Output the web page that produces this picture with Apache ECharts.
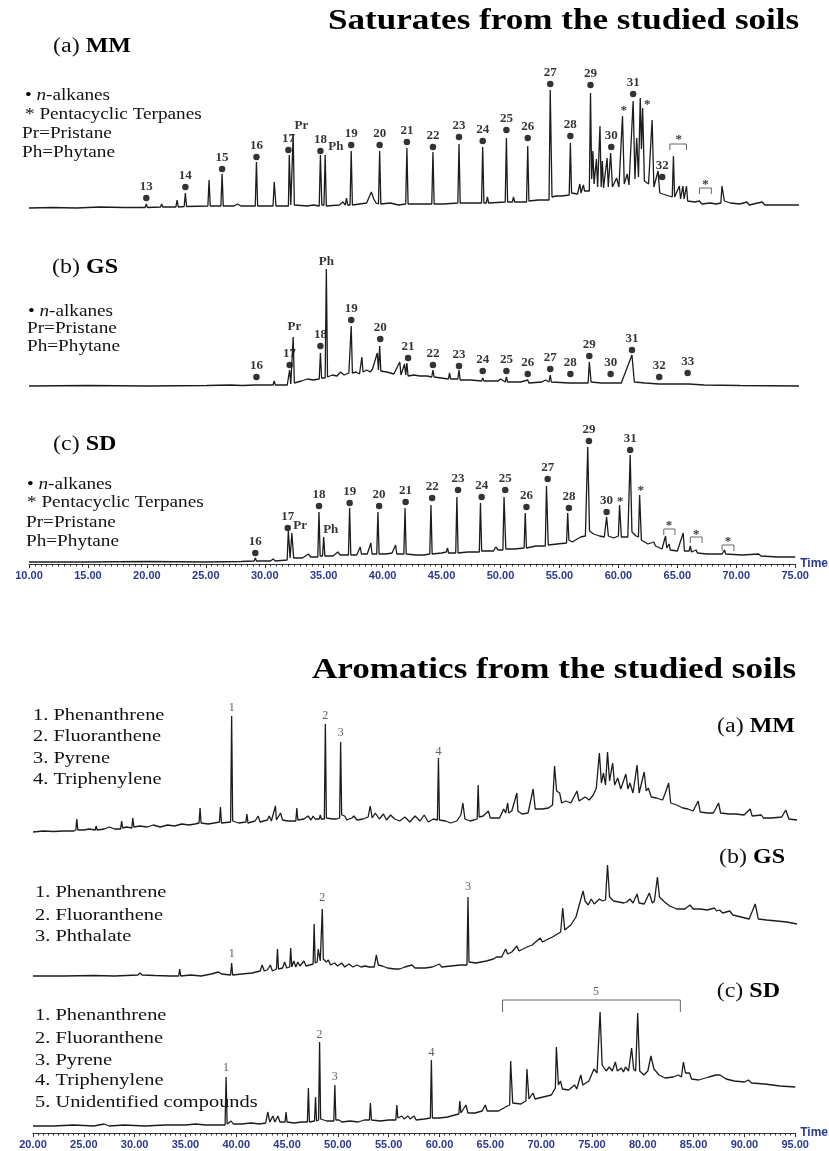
<!DOCTYPE html>
<html>
<head>
<meta charset="utf-8">
<script src="https://cdn.jsdelivr.net/npm/echarts@6/dist/echarts.min.js"></script>
<style>
  html, body { margin: 0; padding: 0; background: #fff; }
  #chart { width: 829px; height: 1151px; }
</style>
</head>
<body>
<div id="chart"></div>
<script>
// ---- saturate fraction, retention time (min) vs relative abundance ----
const satMM = [
  [10,1],[12,1.5],[14,1],[16,2],[18,1.5],[19.8,1.5],[19.9,5],[20.0,1.5],[21.1,2],[21.2,5],[21.3,2],[22.4,2],[22.5,9],[22.6,2],
  [23.1,2.5],[23.2,16],[23.3,2.5],[25.1,3],[25.2,29],[25.3,3],[26.2,3],[26.3,35],[26.4,3],[27.3,3],[27.6,5],[27.9,3],
  [29.1,3],[29.2,47],[29.3,3],[30.6,3],[30.7,27],[30.85,3],[31.9,3],[31.97,54],[32.1,4],[32.3,75],[32.4,4],[33.5,3],
  [34.0,4],[34.5,3],[34.6,54],[34.72,4],[34.9,4],[35.0,54],[35.1,3],[36.2,4],[36.5,7],[36.7,4],[36.8,11],[36.9,4],
  [37.1,4],[37.2,58],[37.3,4],[38.5,6],[38.9,17],[39.1,10],[39.3,6],[39.5,5],[39.6,58],[39.7,5],[40.5,6],[41.2,4],
  [41.8,5],[41.9,61],[42.0,5],[43.0,5],[44.0,5],[44.1,57],[44.2,5],[45.0,5],[46.2,6],[46.3,65],[46.4,6],[47.5,6],
  [48.2,6],[48.3,62],[48.4,6],[48.6,6],[48.7,12],[48.8,6],[50.2,7],[50.3,71],[50.4,7],[50.8,7],[50.9,12],[51.0,7],
  [52.0,7],[52.1,63],[52.2,8],[53.0,9],[53.9,9],[54.0,119],[54.15,12],[54.5,13],[55.0,13],[55.6,14],[55.7,66],[55.8,16],
  [56.3,15],[56.5,25],[56.6,16],[56.8,24],[56.9,18],[57.3,18],[57.4,116],[57.5,30],[57.6,58],[57.7,25],[57.9,50],[58.0,22],
  [58.2,83],[58.3,22],[58.4,48],[58.5,21],[58.8,51],[58.9,22],[59.1,56],[59.25,22],[59.6,31],[59.8,22],[60.1,93],[60.25,25],
  [60.5,35],[60.65,24],[61.0,108],[61.15,30],[61.3,71],[61.45,32],[61.6,111],[61.7,60],[61.8,101],[61.95,28],[62.3,25],
  [62.6,89],[62.75,22],[63.1,38],[63.25,16],[63.5,15],[64.3,12],[64.4,53],[64.5,12],[64.9,23],[65.0,10],[65.2,23],[65.3,10],
  [65.5,23],[65.6,8],[66.2,7],[66.6,8],[66.8,5],[67.5,6],[68.0,5],[68.4,6],[68.5,23],[68.7,8],[69.2,6],[70.0,5],[70.6,7],
  [70.8,4],[71.9,7],[72.1,4],[73.0,4],[75.0,4]
];
const satGS = [
  [10,0],[15,0.5],[20,0],[25,0.5],[27,1],[28,0.5],[29.1,1],[29.2,3],[29.3,1],[30.6,1],[30.7,5],[30.8,1],[31.8,1],[32.0,16],
  [32.1,2],[32.3,49],[32.4,3],[33.0,5],[33.5,7],[34.0,6],[34.5,7],[34.6,33],[34.7,8],[35.0,8],[35.1,117],[35.2,9],[35.6,11],
  [36.0,10],[36.3,14],[36.6,11],[37.0,13],[37.2,60],[37.3,13],[37.6,14],[37.9,12],[38.1,29],[38.2,14],[38.5,16],[38.8,14],
  [39.0,17],[39.4,33],[39.5,16],[39.6,40],[39.7,15],[40.2,14],[40.8,12],[41.3,24],[41.4,11],[41.7,22],[41.8,11],[41.9,23],
  [42.0,10],[42.5,11],[43.0,10],[43.6,10],[44.0,9],[44.1,16],[44.2,9],[44.8,8],[45.4,7],[45.5,13],[45.6,7],[46.2,7],
  [46.3,16],[46.4,6],[47.3,6],[48.2,5],[48.3,8],[48.4,5],[49.6,5],[49.8,7],[50.2,4],[50.3,9],[50.4,4],[51.5,4],[52.1,6],
  [52.2,3],[53.3,4],[53.6,6],[53.9,4],[54.0,11],[54.1,4],[55.6,3],[55.7,4],[55.8,3],[57.2,3],[57.3,24],[57.45,4],[58.3,3],
  [59.1,3],[59.2,2.5],[60.0,3],[60.9,31],[61.1,4],[62.0,3],[63.2,2],[64.0,2],[65.5,2],[65.6,4],[65.7,2],[67,1],[70,0.5],[75,0]
];
const satSD = [
  [10,2],[15,2],[20,2.5],[25,2],[28,2.5],[29.1,3],[29.2,6],[29.3,3],[30.5,3],[30.7,5],[30.9,3],[31.9,4],[32.0,33],[32.15,6],
  [32.3,31],[32.45,6],[33.2,6],[33.7,10],[33.9,7],[34.5,7],[34.6,52],[34.7,8],[34.9,8],[35.0,27],[35.1,8],[35.8,8],[36.2,12],
  [36.4,9],[36.6,9],[37.1,9],[37.2,56],[37.3,9],[37.8,9],[38.1,17],[38.2,10],[38.7,10],[39.0,21],[39.1,10],[39.5,10],
  [39.6,52],[39.7,10],[40.3,10],[40.8,11],[41.1,19],[41.2,10],[41.8,10],[41.9,56],[42.0,10],[42.8,9],[43.5,9],[44.0,10],
  [44.1,59],[44.2,10],[45.0,11],[45.4,12],[45.5,16],[45.6,11],[46.2,11],[46.3,67],[46.4,11],[47.2,12],[48.2,12],[48.3,61],
  [48.4,13],[49.4,13],[49.6,17],[49.8,14],[50.2,14],[50.3,67],[50.45,15],[51.2,15],[52.0,16],[52.1,51],[52.2,16],[53.0,18],
  [53.8,18],[53.9,78],[54.05,19],[54.8,20],[55.6,21],[55.7,51],[55.8,24],[56.1,22],[56.5,25],[56.8,27],[57.2,28],[57.4,117],
  [57.55,33],[57.9,30],[58.4,28],[58.8,27],[59.0,47],[59.15,28],[59.6,26],[60.0,28],[60.1,59],[60.25,27],[60.8,27],[61.0,109],
  [61.15,32],[61.5,28],[61.7,27],[61.8,69],[61.95,24],[62.5,20],[63.0,22],[63.15,18],[63.7,15],[64.0,28],[64.1,16],[64.3,20],
  [64.4,14],[65.0,13],[65.5,31],[65.6,13],[66.0,13],[66.1,18],[66.2,12],[66.6,14],[66.7,11],[67.5,10],[68.5,10],[68.6,12],
  [68.8,10],[69.0,14],[69.1,10],[70.5,9],[71.9,10],[72.1,8],[73.5,7],[75,7]
];

// n-alkane markers: [carbon number, time, height of dot]
const satMMAlkanes = [[13,19.9,11],[14,23.2,22],[15,26.3,40],[16,29.2,52],[17,31.9,59],[18,34.6,58],[19,37.2,64],[20,39.6,64],
  [21,41.9,67],[22,44.1,62],[23,46.3,72],[24,48.3,68],[25,50.3,79],[26,52.1,71],[27,54.0,125],[28,55.7,73],[29,57.4,124],
  [30,59.15,62],[31,61.0,115],[32,63.45,32]];
const satGSAlkanes = [[16,29.2,9],[17,32.0,21],[18,34.6,40],[19,37.2,66],[20,39.65,47],[21,42.0,28],[22,44.1,21],[23,46.3,20],
  [24,48.3,15],[25,50.3,15],[26,52.1,12],[27,54.0,17],[28,55.7,12],[29,57.3,30],[30,59.1,12],[31,60.9,36],[32,63.2,9],[33,65.6,13]];
const satSDAlkanes = [[16,29.2,11],[17,31.95,36],[18,34.6,58],[19,37.2,61],[20,39.7,58],[21,41.95,62],[22,44.2,66],[23,46.4,74],
  [24,48.4,67],[25,50.4,74],[26,52.2,57],[27,54.0,85],[28,55.8,56],[29,57.5,123],[30,59.0,52],[31,61.0,114]];

// other peak names: [text, time, height]
const satMMNames = [['Pr',33.0,83],['Ph',35.9,62],['*',60.2,98],['*',62.2,104],['*',64.85,69],['*',67.1,24]];
const satGSNames = [['Pr',32.4,59],['Ph',35.1,124]];
const satSDNames = [['Pr',33.0,38],['Ph',35.6,34],['*',60.15,62],['*',61.9,73],['*',64.3,38],['*',66.6,29],['*',69.3,22]];

// hopane group brackets: [start time, end time, height]
const satMMBrackets = [[64.1,65.5,65],[66.6,67.6,21]];
const satSDBrackets = [[63.85,64.8,35],[66.1,67.1,27],[68.8,69.8,19]];

// ---- aromatic fraction ----
const aroMM = [
  [20,1],[21,2],[22,1.5],[23,2],[24,2],[24.2,3],[24.3,14],[24.4,3],[25,3],[25.5,4],[26.1,3],[26.2,7],[26.3,3],[27,4],[27.5,6],
  [28,4],[28.6,4],[28.7,12],[28.8,5],[29.2,6],[29.7,5],[29.8,15],[29.9,6],[30.5,7],[31.2,6],[31.8,8],[32.5,6],[33.2,8],
  [33.9,7],[34.6,9],[35.3,8],[35.9,9],[36.3,10],[36.4,25],[36.5,10],[37.2,9],[37.8,10],[38.3,11],[38.4,26],[38.5,10],
  [39.4,11],[39.5,117],[39.6,12],[40.2,10],[40.9,11],[41.0,19],[41.1,10],[41.8,12],[42.1,17],[42.3,11],[43.0,13],[43.2,17],
  [43.4,12],[43.8,27],[43.9,13],[44.3,20],[44.5,13],[45.0,12],[45.8,12],[45.9,25],[46.0,13],[46.6,14],[47.0,17],[47.3,13],
  [47.5,17],[47.7,14],[48.1,14],[48.2,18],[48.3,14],[48.6,14],[48.7,109],[48.8,15],[49.4,14],[49.8,14],[50.1,15],[50.2,91],
  [50.3,18],[50.6,17],[50.8,13],[51.3,15],[51.5,17],[51.8,13],[52.4,14],[52.9,16],[53.1,27],[53.3,15],[53.6,20],[54.0,14],
  [54.4,19],[54.7,13],[55.1,18],[55.5,14],[56.0,12],[56.5,16],[57.0,11],[57.5,17],[58.0,12],[58.4,18],[58.8,11],[59.3,14],
  [59.7,13],[59.8,75],[59.9,13],[60.5,12],[61.0,10],[61.6,12],[62.0,18],[62.2,30],[62.4,14],[62.9,12],[63.3,13],[63.6,14],
  [63.7,48],[63.8,16],[64.2,17],[64.7,22],[64.9,15],[65.4,15],[65.8,15],[66.2,24],[66.4,20],[66.6,30],[66.7,20],[67.0,22],
  [67.5,40],[67.6,22],[68.0,19],[68.6,20],[69.1,44],[69.3,24],[70.0,24],[70.6,25],[71.0,28],[71.2,67],[71.4,42],[71.7,40],
  [71.9,30],[72.3,32],[72.8,30],[73.4,42],[73.6,32],[74.2,36],[74.6,33],[75.0,38],[75.3,45],[75.6,80],[75.8,50],[76.0,60],
  [76.2,48],[76.4,81],[76.6,52],[76.9,70],[77.1,48],[77.4,55],[77.7,44],[78.2,59],[78.4,44],[78.6,50],[78.9,40],[79.3,68],
  [79.5,40],[80.0,61],[80.2,42],[80.4,45],[80.7,36],[81.2,35],[81.8,33],[82.0,38],[82.4,50],[82.6,30],[83.2,28],[83.8,25],
  [84.3,24],[84.8,22],[85.3,32],[85.5,21],[86.2,20],[86.8,20],[87.3,30],[87.5,20],[88.3,19],[89.0,19],[89.8,18],[90.4,24],
  [90.6,17],[91.5,18],[91.7,15],[92.5,15],[93.5,16],[93.9,23],[94.2,14],[95,13]
];
const aroGS = [
  [20,1],[23,1],[26,1.5],[28,1],[30.3,2],[30.5,4],[30.7,2],[32,1.5],[33.5,1],[34.3,1],[34.4,8],[34.5,1],[35.5,2],[36.5,1],
  [37.5,3],[38.2,5],[38.5,3],[39.4,2],[39.5,14],[39.6,2],[40.5,3],[41.5,4],[42.3,6],[42.5,12],[42.7,6],[43.0,7],[43.3,12],
  [43.5,6],[43.9,8],[44.0,28],[44.1,8],[44.5,9],[44.7,15],[44.9,9],[45.2,10],[45.3,29],[45.4,10],[45.6,16],[45.8,10],
  [46.0,15],[46.2,11],[46.6,16],[46.8,11],[47.5,13],[47.6,53],[47.7,14],[47.9,15],[48.0,28],[48.2,16],[48.4,68],[48.5,18],
  [48.8,15],[49.0,17],[49.2,12],[49.6,14],[49.9,11],[50.3,14],[50.6,10],[51.0,13],[51.4,10],[51.8,12],[52.2,10],[52.6,11],
  [53.0,10],[53.5,10],[53.7,22],[53.9,12],[54.3,11],[54.8,9],[55.5,8],[56.0,8],[56.5,10],[57.2,12],[57.5,9],[58.5,9],
  [59.2,10],[59.9,13],[60.1,10],[61.0,11],[62.0,12],[62.6,12],[62.7,80],[62.8,15],[63.5,14],[64.5,16],[65.2,18],[65.5,20],
  [66.0,20],[66.4,28],[66.6,23],[67.0,25],[67.5,31],[67.7,26],[68.5,30],[69.0,32],[69.8,39],[70.0,35],[71.0,40],[71.8,45],
  [72.0,69],[72.2,47],[72.8,52],[73.3,60],[74.0,86],[74.2,76],[74.5,72],[74.8,78],[75.1,73],[75.6,78],[75.9,76],[76.2,77],
  [76.4,112],[76.6,80],[77.0,76],[77.5,75],[78.0,74],[78.3,75],[78.6,78],[78.9,74],[79.3,83],[79.5,74],[80.0,73],[80.5,84],
  [80.8,74],[81.0,76],[81.3,100],[81.5,80],[82.0,75],[82.5,71],[83.2,68],[84.0,68],[84.5,72],[84.8,68],[85.5,68],[86.2,67],
  [86.9,69],[87.1,66],[87.4,67],[87.7,64],[88.4,66],[88.7,62],[89.5,60],[90.3,58],[90.9,73],[91.2,58],[92.0,57],[93.0,56],
  [94.0,55],[95,53]
];
const aroSD = [
  [20,7],[22,7],[24,8],[26,7],[27,9],[27.5,7],[29,8],[31,7],[33,8],[35,8],[36,9],[37,8],[38.9,8],[39.0,56],[39.1,9],[39.5,12],
  [39.7,9],[40.5,9],[41.5,10],[42.3,9],[42.9,10],[43.1,21],[43.3,11],[43.6,17],[43.8,11],[44.1,17],[44.3,11],[44.8,11],
  [44.9,21],[45.0,11],[45.7,10],[46.4,11],[47.0,11],[47.1,45],[47.2,11],[47.7,12],[47.8,36],[47.9,12],[48.1,13],[48.2,91],
  [48.3,14],[48.9,12],[49.6,12],[49.7,48],[49.8,13],[50.1,13],[50.4,11],[51.2,12],[52.0,11],[52.6,13],[53.1,13],[53.2,30],
  [53.3,13],[54.2,12],[55.0,13],[55.7,13],[55.8,28],[55.9,15],[56.3,17],[56.5,14],[56.9,17],[57.1,14],[57.5,17],[57.7,13],
  [58.5,14],[59.1,15],[59.2,73],[59.3,15],[60.0,15],[60.8,16],[61.5,18],[61.9,19],[62.0,32],[62.1,20],[62.6,28],[62.8,20],
  [63.5,20],[64.2,22],[64.5,28],[64.7,22],[65.3,22],[65.8,22],[66.5,26],[66.9,28],[67.0,72],[67.2,30],[68.0,29],[68.5,32],
  [68.6,64],[68.8,34],[69.2,40],[69.4,34],[70.2,36],[71.0,38],[71.4,45],[71.5,86],[71.7,48],[71.9,52],[72.1,44],[72.7,43],
  [73.3,48],[73.5,44],[73.9,58],[74.1,48],[74.7,52],[75.2,64],[75.5,60],[75.8,121],[76.0,68],[76.4,62],[76.7,66],[77.0,62],
  [77.3,71],[77.5,62],[77.9,65],[78.1,61],[78.3,66],[78.6,62],[78.9,85],[79.1,64],[79.3,62],[79.5,120],[79.7,62],[80.1,58],
  [80.5,62],[80.8,77],[81.1,64],[81.6,58],[82.2,55],[83.0,56],[83.5,58],[83.8,56],[84.0,71],[84.2,60],[84.6,60],[84.8,54],
  [85.5,53],[86.5,56],[87.2,58],[87.6,58],[88.2,54],[89.0,52],[90.0,51],[90.4,53],[90.7,50],[92.0,49],[93.5,47],[95,46]
];
const aroMMNames = [['1',39.5,125],['2',48.7,117],['3',50.2,100],['4',59.8,81]];
const aroGSNames = [['1',39.5,23],['2',48.4,79],['3',62.7,90]];
const aroSDNames = [['1',39.0,65],['2',48.2,98],['3',49.7,56],['4',59.2,80],['5',75.4,141]];
const aroSDBrackets = [[66.2,83.7,133]];

const satTicks = { min: 10, max: 75, interval: 5 };
const aroTicks = { min: 20, max: 95, interval: 5 };

// ---- layout ----
const H = 150;
const PAGE_H = 1151;
const ink = '#1c1c1c';
const blue = '#2b3990';
const serif = 'Liberation Serif';

const panels = [
  { trace: satMM, base: 209, kind: 'sat', dots: satMMAlkanes, names: satMMNames, brackets: satMMBrackets },
  { trace: satGS, base: 386, kind: 'sat', dots: satGSAlkanes, names: satGSNames, brackets: [] },
  { trace: satSD, base: 564, kind: 'sat', dots: satSDAlkanes, names: satSDNames, brackets: satSDBrackets, axis: true },
  { trace: aroMM, base: 833, kind: 'aro', dots: [], names: aroMMNames, brackets: [] },
  { trace: aroGS, base: 977, kind: 'aro', dots: [], names: aroGSNames, brackets: [] },
  { trace: aroSD, base: 1133, kind: 'aro', dots: [], names: aroSDNames, brackets: aroSDBrackets, axis: true }
];

const grid = [], xAxis = [], yAxis = [], series = [];

panels.forEach((p, i) => {
  const sat = p.kind === 'sat';
  const ticks = sat ? satTicks : aroTicks;
  grid.push({
    left: sat ? 29 : 33, right: sat ? 30 : 32,
    bottom: PAGE_H - p.base, height: H
  });
  xAxis.push({
    gridIndex: i, type: 'value', min: ticks.min, max: ticks.max, interval: ticks.interval,
    show: !!p.axis,
    name: 'Time', nameLocation: 'end', nameGap: 5,
    nameTextStyle: { color: blue, fontWeight: 'bold', fontSize: 12, fontFamily: 'Liberation Sans' },
    axisLine: { onZero: false, lineStyle: { color: '#333', width: 1 } },
    axisTick: { length: 4, lineStyle: { color: '#333' } },
    minorTick: { show: true, splitNumber: 10, length: 2.5, lineStyle: { color: '#333' } },
    axisLabel: {
      formatter: v => v.toFixed(2), color: blue, fontWeight: 'bold',
      fontFamily: 'Liberation Sans', fontSize: 11, margin: 6
    },
    splitLine: { show: false }
  });
  yAxis.push({ gridIndex: i, type: 'value', min: 0, max: H, show: false });

  series.push({
    type: 'line', xAxisIndex: i, yAxisIndex: i, data: p.trace,
    showSymbol: false, silent: true, clip: false,
    lineStyle: { color: ink, width: 1.3 }
  });
  if (p.dots.length) {
    series.push({
      type: 'scatter', xAxisIndex: i, yAxisIndex: i, symbolSize: 6.5, silent: true, clip: false,
      itemStyle: { color: '#000' },
      data: p.dots.map(d => ({ name: String(d[0]), value: [d[1], d[2]] })),
      label: {
        show: true, position: 'top', distance: 2, formatter: '{b}',
        color: '#000', fontFamily: serif, fontWeight: 'bold', fontSize: 13
      }
    });
  }
  if (p.names.length) {
    series.push({
      type: 'scatter', xAxisIndex: i, yAxisIndex: i, symbolSize: 1, silent: true, clip: false,
      itemStyle: { color: 'rgba(0,0,0,0)' },
      data: p.names.map(d => ({ name: d[0], value: [d[1], d[2]] })),
      label: {
        show: true, position: 'inside', formatter: '{b}',
        color: sat ? '#000' : '#333', fontFamily: serif,
        fontWeight: sat ? 'bold' : 'normal', fontSize: sat ? 13 : 12
      }
    });
  }
  if (p.brackets.length) {
    series.push({
      type: 'custom', xAxisIndex: i, yAxisIndex: i, silent: true, clip: false,
      data: p.brackets,
      encode: { x: [0, 1], y: 2 },
      renderItem: (params, api) => {
        const a = api.coord([api.value(0), api.value(2)]);
        const b = api.coord([api.value(1), api.value(2)]);
        const drop = sat ? 6 : 12;
        return {
          type: 'polyline',
          shape: { points: [[a[0], a[1] + drop], a, b, [b[0], b[1] + drop]] },
          style: { stroke: '#666', fill: null, lineWidth: 1 }
        };
      }
    });
  }
});

// ---- texts ----
const rich = {
  b: { fontFamily: serif, fontWeight: 'bold', fontSize: 20, fill: '#000' },
  d: { fontFamily: serif, fontSize: 16, fill: '#000' },
  i: { fontFamily: serif, fontStyle: 'italic', fontSize: 16, fill: '#111' }
};
function txt(x, y, text, size, opts = {}) {
  return {
    type: 'text', x, y, scaleX: opts.scaleX || 1.2, silent: true,
    style: {
      text, fontFamily: serif, fontSize: size, fontWeight: opts.bold ? 'bold' : 'normal',
      fill: opts.fill || '#111', textAlign: opts.align || 'left', textVerticalAlign: 'middle', rich
    }
  };
}
const satLegend = ['{d|•} {i|n}-alkanes', '* Pentacyclic Terpanes', 'Pr=Pristane', 'Ph=Phytane'];
const satGSLegend = ['{d|•} {i|n}-alkanes', 'Pr=Pristane', 'Ph=Phytane'];
const aroMMLegend = ['1. Phenanthrene', '2. Fluoranthene', '3. Pyrene', '4. Triphenylene'];
const aroGSLegend = ['1. Phenanthrene', '2. Fluoranthene', '3. Phthalate'];
const aroSDLegend = ['1. Phenanthrene', '2. Fluoranthene', '3. Pyrene', '4. Triphenylene', '5. Unidentified compounds'];

const graphic = [
  txt(328, 21, 'Saturates from the studied soils', 30, { bold: true, fill: '#000', scaleX: 1.17 }),
  txt(312, 670, 'Aromatics from the studied soils', 30, { bold: true, fill: '#000', scaleX: 1.17 }),
  txt(53, 47, '(a) {b|MM}', 20),
  txt(52, 268, '(b) {b|GS}', 20),
  txt(53, 445, '(c) {b|SD}', 20),
  txt(795, 727, '(a) {b|MM}', 20, { align: 'right' }),
  txt(785, 858, '(b) {b|GS}', 20, { align: 'right' }),
  txt(780, 992, '(c) {b|SD}', 20, { align: 'right' })
];
[96, 115, 134, 153].forEach((y, k) => graphic.push(txt(k < 2 ? 25 : 22, y, satLegend[k], 16)));
[312, 329, 347].forEach((y, k) => graphic.push(txt(k < 1 ? 28 : 27, y, satGSLegend[k], 16)));
[485, 503, 523, 542].forEach((y, k) => graphic.push(txt(k < 2 ? 27 : 26, y, satLegend[k], 16)));
[716, 737, 759, 780].forEach((y, k) => graphic.push(txt(33, y, aroMMLegend[k], 17)));
[893, 916, 937].forEach((y, k) => graphic.push(txt(35, y, aroGSLegend[k], 17)));
[1016, 1039, 1061, 1081, 1103].forEach((y, k) => graphic.push(txt(35, y, aroSDLegend[k], 17)));

const chart = echarts.init(document.getElementById('chart'), null, { renderer: 'canvas' });
chart.setOption({
  animation: false,
  backgroundColor: '#fff',
  grid, xAxis, yAxis, series, graphic
});
</script>
</body>
</html>
